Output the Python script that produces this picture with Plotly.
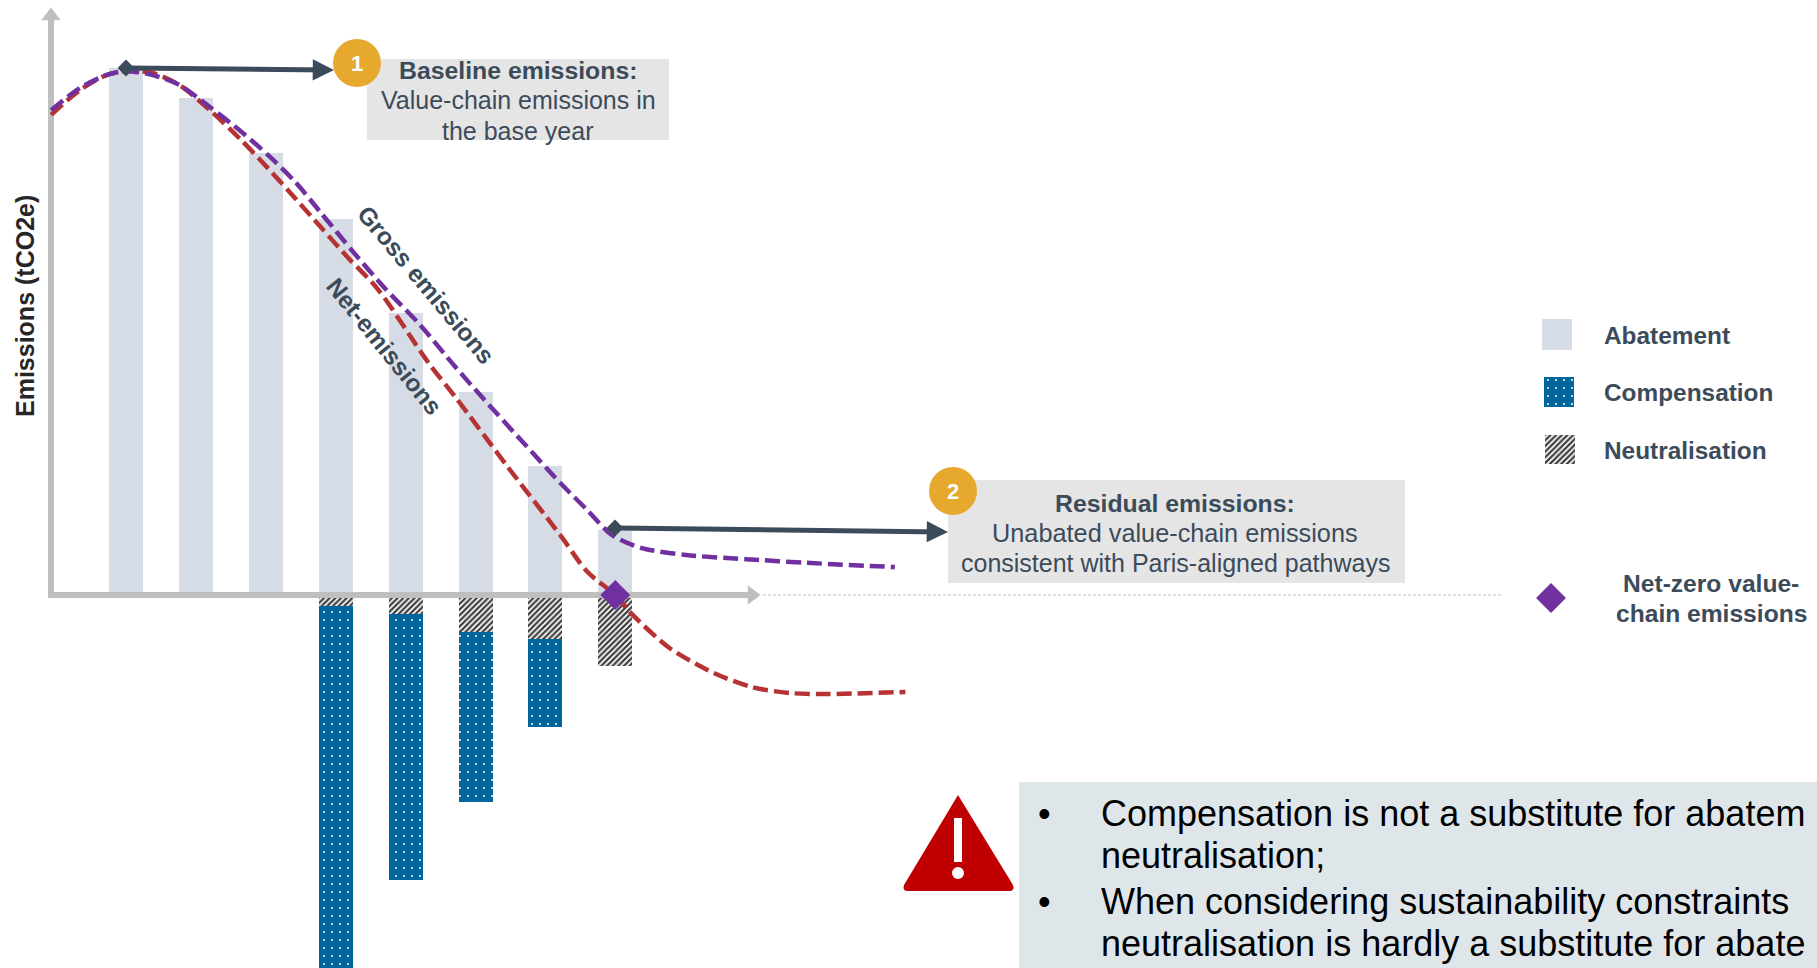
import plotly.graph_objects as go

W, H = 1817, 968
FONT = "Liberation Sans, Arial, sans-serif"
INK = "#3C4B5A"
AXIS = "#BFBFBF"

# Data -------------------------------------------------------------------
periods = [1, 2, 3, 4, 5, 6, 7, 8]
abatement = [100, 94.3, 83.9, 71.4, 53.5, 38.5, 24.5, 12.3]
neutralisation = [0, 0, 0, -2.1, -3.6, -7.0, -8.3, -13.5]
compensation = [0, 0, 0, -78, -50.5, -32.3, -16.7, 0]

gross_x = [-0.07, 0.34, 0.73, 1.0, 1.37, 1.76, 2.20, 2.65, 3.03, 3.42, 3.79, 4.25, 4.69, 5.21, 5.71, 6.09,
           6.65, 7.21, 7.60, 7.95, 8.38, 9.01, 9.87, 10.74, 12.0]
gross_y = [92.0, 96.2, 98.7, 99.4, 98.7, 96.8, 92.6, 87.9, 83.5, 78.4, 72.5, 65.1, 58.4, 51.2, 43.3, 37.6,
           29.4, 21.3, 16.1, 11.4, 8.9, 7.6, 6.8, 6.1, 5.3]
net_x = [-0.07, 0.34, 0.73, 1.0, 1.37, 1.76, 2.20, 2.65, 3.03, 3.42, 3.66, 4.17, 4.61, 5.33, 5.71, 6.45,
         7.21, 7.60, 8.0, 8.22, 8.78, 9.41, 9.96, 10.5, 10.97, 12.15]
net_y = [91.1, 95.8, 98.7, 99.4, 99.1, 96.8, 92.0, 86.3, 81.0, 75.3, 71.7, 64.1, 57.9, 44.0, 37.6, 24.5,
         11.4, 4.4, 0, -3.4, -10.1, -14.8, -17.5, -18.6, -18.8, -18.4]
net_zero_x = [8]
net_zero_y = [0]

# Axis mapping: whole page is the plot area -------------------------------
PX_PER_X, PX_PER_Y = 69.9, 5.27
X0_PX, Y0_PX = 126.0, 595.0
x_range = [1 - X0_PX / PX_PER_X, 1 + (W - X0_PX) / PX_PER_X]
y_range = [-(H - Y0_PX) / PX_PER_Y, Y0_PX / PX_PER_Y]


def dx(px):
    return 1 + (px - X0_PX) / PX_PER_X


def dy(py):
    return (Y0_PX - py) / PX_PER_Y


COMP_PATTERN = dict(shape=".", bgcolor="#00669B", fgcolor="#FFFFFF", size=8, solidity=0.05, fillmode="replace")
NEUT_PATTERN = dict(shape="/", bgcolor="#FFFFFF", fgcolor="#3D3D3D", size=4, solidity=0.55, fillmode="replace")
BAR_W = 34 / PX_PER_X

fig = go.Figure()
fig.add_bar(x=periods, y=abatement, width=BAR_W, name="Abatement", marker=dict(color="#D6DCE5", line_width=0))
fig.add_bar(x=periods, y=neutralisation, width=BAR_W, name="Neutralisation",
            marker=dict(color="#FFFFFF", pattern=NEUT_PATTERN, line_width=0))
fig.add_bar(x=periods, y=compensation, width=BAR_W, name="Compensation",
            marker=dict(color="#00669B", pattern=COMP_PATTERN, line_width=0))

# Axes with arrow heads
fig.add_scatter(x=[dx(763), dx(1502)], y=[0, 0], mode="lines", line=dict(color=AXIS, width=1, dash="3px,2px"),
                hoverinfo="skip")
fig.add_scatter(x=[dx(48), dx(750)], y=[0, 0], mode="lines", line=dict(color=AXIS, width=6), hoverinfo="skip")
fig.add_scatter(x=[dx(51), dx(51)], y=[0, dy(20)], mode="lines", line=dict(color=AXIS, width=6), hoverinfo="skip")
fig.add_scatter(x=[dx(752)], y=[0], mode="markers", marker=dict(symbol="triangle-right", size=17, color=AXIS),
                hoverinfo="skip")
fig.add_scatter(x=[dx(51)], y=[dy(16)], mode="markers", marker=dict(symbol="triangle-up", size=17, color=AXIS),
                hoverinfo="skip")

DASH = "15px,6px"
fig.add_scatter(x=net_x, y=net_y, mode="lines", name="Net-emissions",
                line=dict(color="#B73232", width=4.5, dash=DASH, shape="spline", smoothing=0.8))
fig.add_scatter(x=gross_x, y=gross_y, mode="lines", name="Gross emissions",
                line=dict(color="#7030A0", width=4.5, dash=DASH, shape="spline", smoothing=0.8))
fig.add_scatter(x=net_zero_x, y=net_zero_y, mode="markers", name="Net-zero value-chain emissions",
                marker=dict(symbol="diamond", size=23, color="#7030A0"))

# Pixel-space overlay for the furniture ---------------------------------
swatches = [
    (1557, 319, 31, dict(color="#D6DCE5", line_width=0)),
    (1559, 377, 30, dict(color="#00669B", pattern=COMP_PATTERN, line_width=0)),
    (1560, 435, 29, dict(color="#FFFFFF", pattern=NEUT_PATTERN, line_width=0)),
]
for cx, top, h, mk in swatches:
    fig.add_bar(x=[cx], y=[h], base=[top], width=[30], marker=mk, xaxis="x2", yaxis="y2", hoverinfo="skip")
fig.add_scatter(x=[1551], y=[598], mode="markers", marker=dict(symbol="diamond", size=23, color="#7030A0"),
                xaxis="x2", yaxis="y2", hoverinfo="skip")
fig.add_scatter(x=[126, 615], y=[68, 528], mode="markers", marker=dict(symbol="diamond", size=13, color=INK),
                xaxis="x2", yaxis="y2", hoverinfo="skip")


def rect(x0, y0, x1, y1, color):
    return dict(type="rect", xref="x2", yref="y2", x0=x0, y0=y0, x1=x1, y1=y1, fillcolor=color, line_width=0)


def circle(cx, cy, r, color):
    return dict(type="circle", xref="x2", yref="y2", x0=cx - r, y0=cy - r, x1=cx + r, y1=cy + r,
                fillcolor=color, line_width=0)


shapes = [
    rect(367, 59, 669, 140, "#E5E5E5"),
    rect(948, 480, 1405, 583, "#E5E5E5"),
    rect(1019, 782, W, H, "#DFE6E9"),
    circle(357, 63, 24, "#E6A82D"),
    circle(953, 491, 24, "#E6A82D"),
    dict(type="path", xref="x2", yref="y2", line_width=0, fillcolor="#C00000",
         path="M 958 795 L 1013 885 Q 1015 891 1009 891 L 908 891 Q 902 891 904 885 Z"),
    rect(954, 818, 962, 862, "#FFFFFF"),
    circle(958, 873, 6, "#FFFFFF"),
]


def label(x, y, text, size=24, color=INK, bold=False, anchor="center", angle=0):
    return dict(xref="x2", yref="y2", x=x, y=y, text=f"<b>{text}</b>" if bold else text, showarrow=False,
                font=dict(family=FONT, size=size, color=color), xanchor=anchor, yanchor="middle", textangle=angle,
                align="center")


def arrow(x0, y0, x1, y1):
    return dict(xref="x2", yref="y2", axref="x2", ayref="y2", x=x1, y=y1, ax=x0, ay=y0, text="", showarrow=True,
                arrowhead=2, arrowsize=0.85, arrowwidth=5, arrowcolor=INK)


annotations = [
    arrow(126, 68, 334, 70),
    arrow(615, 528, 948, 532),
    label(357, 63, "1", 22, "#FFFFFF", True),
    label(953, 491, "2", 22, "#FFFFFF", True),
    label(518, 70, "Baseline emissions:", 24.8, INK, True),
    label(518, 100, "Value-chain emissions in", 25, INK),
    label(518, 131, "the base year", 25, INK),
    label(1175, 503, "Residual emissions:", 24.8, INK, True),
    label(1175, 533, "Unabated value-chain emissions", 25.3, INK),
    label(1175, 563, "consistent with Paris-aligned pathways", 25, INK),
    label(25, 306, "Emissions (tCO2e)", 25, "#262626", True, angle=-90),
    label(426, 284, "Gross emissions", 24.5, INK, True, angle=50),
    label(384.5, 346, "Net-emissions", 24.5, INK, True, angle=51),
    label(1602, 335, "Abatement", 24.4, INK, True, "left"),
    label(1602, 392, "Compensation", 24.4, INK, True, "left"),
    label(1602, 450, "Neutralisation", 24.4, INK, True, "left"),
    label(1711, 583, "Net-zero value-", 24.6, INK, True),
    label(1711, 613, "chain emissions", 24.6, INK, True),
    label(1044, 813, "•", 36, "#000000"),
    label(1099, 813, "Compensation is not a substitute for abatem", 36, "#000000", anchor="left"),
    label(1099, 855, "neutralisation;", 36, "#000000", anchor="left"),
    label(1044, 901, "•", 36, "#000000"),
    label(1099, 901, "When considering sustainability constraints", 36, "#000000", anchor="left"),
    label(1099, 943, "neutralisation is hardly a substitute for abate", 36, "#000000", anchor="left"),
]

hidden = dict(visible=False, showgrid=False, zeroline=False, fixedrange=True)
fig.update_layout(
    width=W, height=H, margin=dict(l=0, r=0, t=0, b=0, pad=0), autosize=False,
    paper_bgcolor="#FFFFFF", plot_bgcolor="#FFFFFF", showlegend=False, barmode="relative", bargap=0,
    font=dict(family=FONT),
    xaxis=dict(range=x_range, **hidden),
    yaxis=dict(range=y_range, title_text="Emissions (tCO2e)", **hidden),
    xaxis2=dict(range=[0, W], overlaying="x", anchor="y2", **hidden),
    yaxis2=dict(range=[H, 0], overlaying="y", anchor="x2", **hidden),
    shapes=shapes, annotations=annotations,
)

fig.write_html("out.html", config={"displayModeBar": False},
               post_script="document.body.style.margin='0';document.body.style.overflow='hidden';")
